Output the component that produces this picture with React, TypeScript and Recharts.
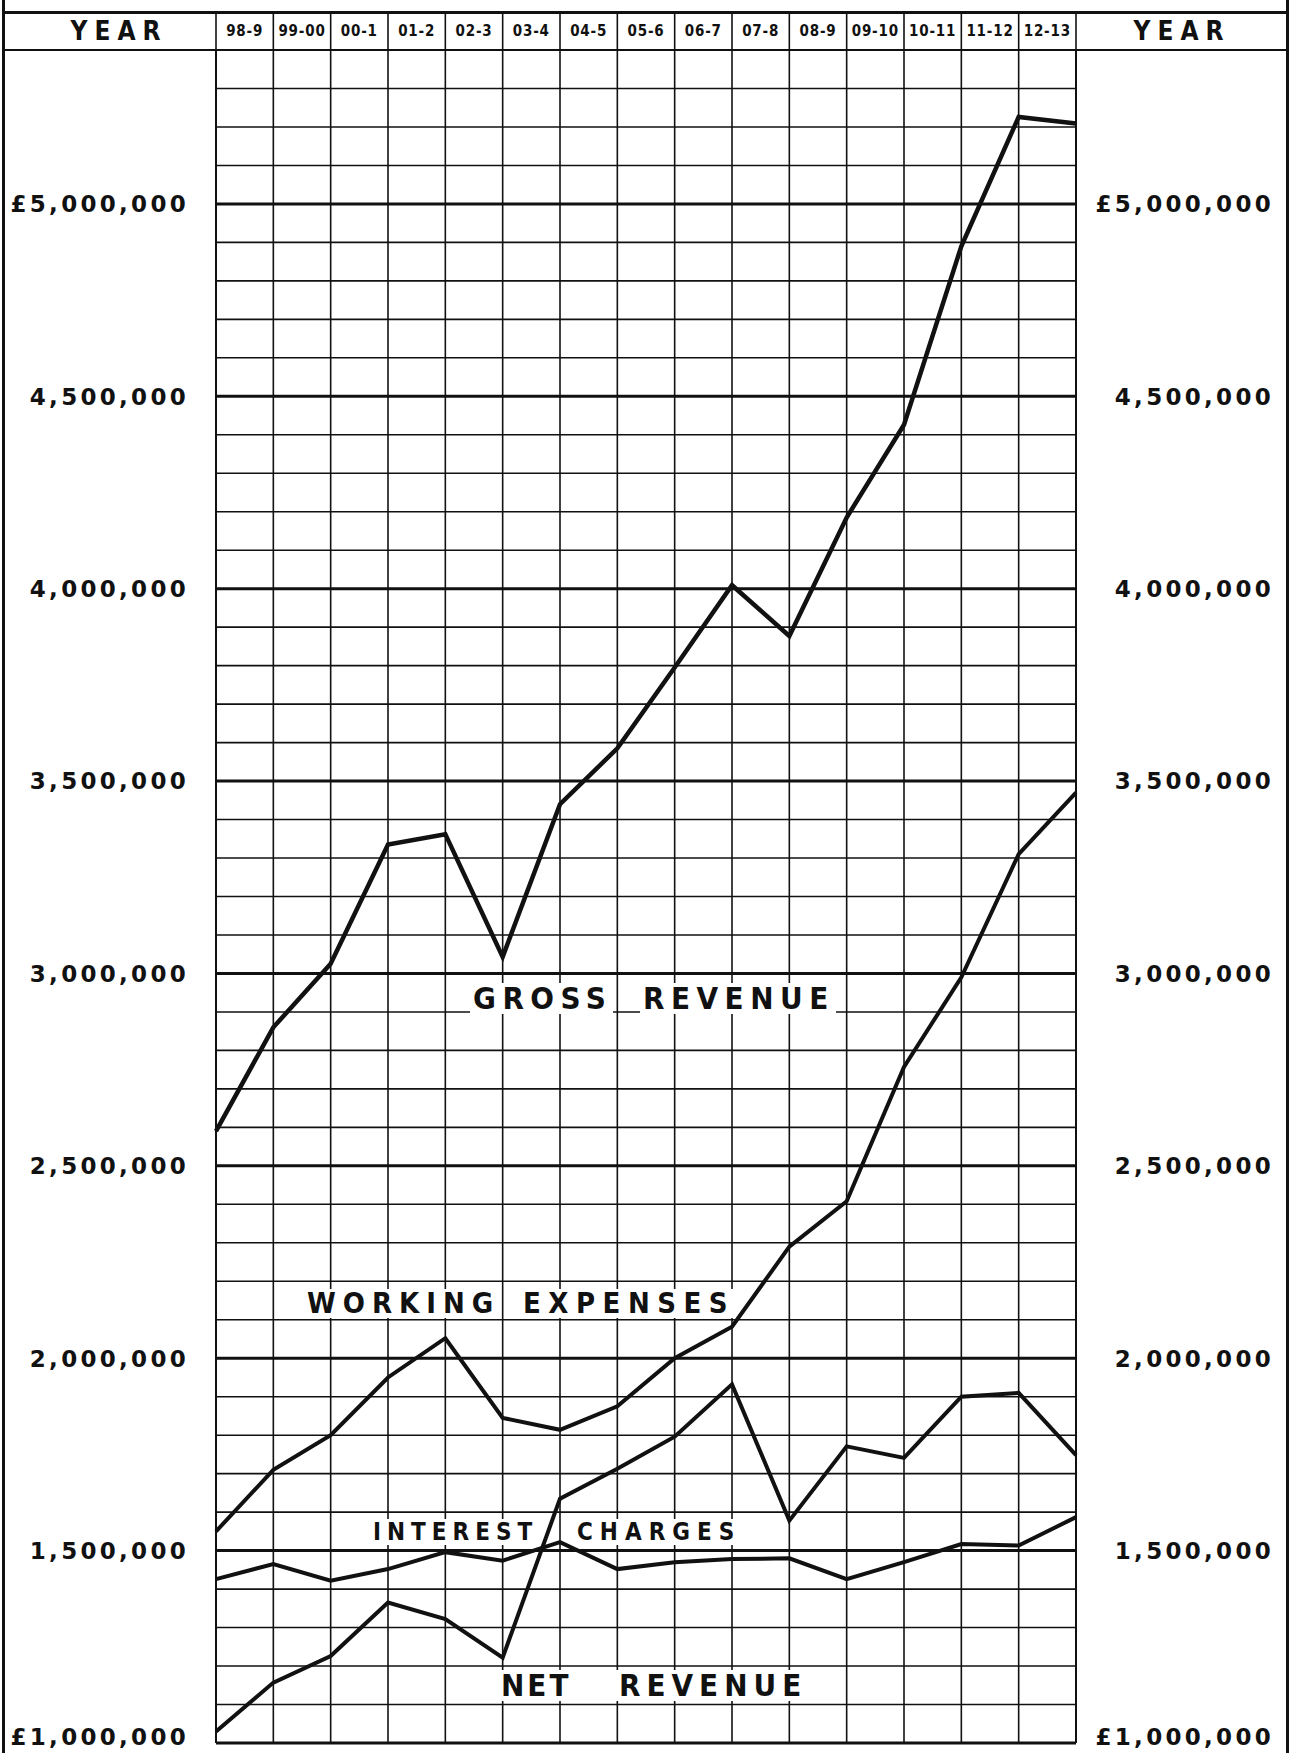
import React from "react";
import { LineChart, Line, XAxis, YAxis, ReferenceLine } from "recharts";

// financial years across the top (one cell between each pair of points)
const YEARS = ["98-9", "99-00", "00-1", "01-2", "02-3", "03-4", "04-5", "05-6", "06-7", "07-8", "08-9", "09-10", "10-11", "11-12", "12-13"];

// values in £ at each vertical ruling (16 points)
const GROSS_REVENUE = [2590000, 2860000, 3025000, 3335000, 3362000, 3043000, 3440000, 3585000, 3795000, 4009000, 3877000, 4185000, 4426000, 4890000, 5226000, 5209000];
const WORKING_EXPENSES = [1550000, 1710000, 1800000, 1950000, 2052000, 1845000, 1814000, 1875000, 2000000, 2082000, 2290000, 2408000, 2757000, 2990000, 3310000, 3470000];
const INTEREST_CHARGES = [1426000, 1465000, 1422000, 1452000, 1496000, 1474000, 1522000, 1452000, 1470000, 1478000, 1480000, 1426000, 1470000, 1517000, 1513000, 1587000];
const NET_REVENUE = [1030000, 1157000, 1226000, 1365000, 1322000, 1222000, 1635000, 1713000, 1796000, 1932000, 1578000, 1771000, 1741000, 1900000, 1910000, 1748000];

const Y_TICKS = [1000000, 1500000, 2000000, 2500000, 3000000, 3500000, 4000000, 4500000, 5000000];
const Y_DOMAIN = [1000000, 5400000];

const W = 1293;
const H = 1753;
const PLOT_L = 216;
const PLOT_R = 1076;
const PLOT_T = 50;
const PLOT_B = 1743;
const COL = (PLOT_R - PLOT_L) / YEARS.length;
const INK = "#111";
const FONT = '"DejaVu Sans Condensed", "DejaVu Sans", sans-serif';

const rows = GROSS_REVENUE.map((g, i) => ({
  i,
  gross: g,
  working: WORKING_EXPENSES[i],
  interest: INTEREST_CHARGES[i],
  net: NET_REVENUE[i],
}));

// ruling every £100,000, heavy every £500,000
const hRules: number[] = [];
for (let k = 10; k <= 54; k++) hRules.push(k * 100000);
const vRules: number[] = [];
for (let k = 0; k <= YEARS.length; k++) vRules.push(k);

const money = (v: number) => (v === 5000000 || v === 1000000 ? "£" : "") + v.toLocaleString("en-US");

// y labels; the bottom one is lifted a little so it stays on the sheet
const moneyTick = (p: any) => (
  <text x={p.x} y={p.payload.value === 1000000 ? p.y - 6 : p.y} dy="0.36em" textAnchor="end"
    style={{ fill: INK, fontFamily: '"DejaVu Sans", sans-serif', fontWeight: 700, fontSize: "23px", letterSpacing: "3.3px" }}>
    {money(p.payload.value)}
  </text>
);

const yearTick = (p: any) => {
  const idx = Math.floor(p.payload.value);
  return (
    <g>
      <line x1={p.x - COL / 2} x2={p.x - COL / 2} y1={12} y2={PLOT_T} stroke={INK} strokeWidth={1.6} />
      {idx === YEARS.length - 1 && (
        <line x1={p.x + COL / 2} x2={p.x + COL / 2} y1={12} y2={PLOT_T} stroke={INK} strokeWidth={1.6} />
      )}
      <text x={p.x} y={31} dy="0.36em" textAnchor="middle"
        style={{ fill: INK, fontFamily: FONT, fontWeight: 700, fontSize: "15px", letterSpacing: "0.8px" }}>
        {YEARS[idx]}
      </text>
    </g>
  );
};

// boxed captions laid over the ruling, kept between two rulings
const Caption = ({ left, cy, size, spacing, text }: any) => {
  const h = Math.round(size * 0.73) + 8;
  return (
    <div style={{
      position: "absolute", left, top: cy - h / 2, height: h, background: "#fff",
      fontFamily: FONT, fontWeight: "bold", fontSize: size, lineHeight: `${h}px`,
      letterSpacing: spacing, color: INK, padding: "0 1px 0 3px", whiteSpace: "nowrap",
    }}>{text}</div>
  );
};

const Rule = ({ left, top, width, height }: any) => (
  <div style={{ position: "absolute", left, top, width, height, background: INK }} />
);

const yearHead = {
  position: "absolute" as const, top: 18, width: 200, textAlign: "center" as const, fontFamily: FONT,
  fontWeight: "bold", fontSize: 26, lineHeight: "26px", letterSpacing: 7, color: INK,
};

export default function App() {
  return (
    <div style={{ position: "absolute", left: 0, top: 0, width: W, height: H, background: "#fff", overflow: "hidden" }}>
      <LineChart width={W} height={H} data={rows} margin={{ top: 0, right: 0, bottom: H - PLOT_B, left: 0 }}>
        <XAxis xAxisId="t" orientation="top" type="number" dataKey="i" domain={[0, YEARS.length]}
          height={PLOT_T} ticks={YEARS.map((_, k) => k + 0.5)} tick={yearTick} interval={0}
          axisLine={false} tickLine={false} />
        <YAxis yAxisId="l" type="number" domain={Y_DOMAIN} width={PLOT_L} ticks={Y_TICKS}
          tick={moneyTick} interval={0} axisLine={false} tickLine={false} tickSize={0} tickMargin={27} />
        <YAxis yAxisId="r" orientation="right" type="number" domain={Y_DOMAIN} width={W - PLOT_R}
          ticks={Y_TICKS} tick={(p: any) => moneyTick({ ...p, x: p.x + 170 })} interval={0}
          axisLine={false} tickLine={false} tickSize={0} tickMargin={28} />

        {hRules.map((v) => (
          <ReferenceLine key={"h" + v} xAxisId="t" yAxisId="l" y={v} stroke={INK}
            strokeWidth={v % 500000 === 0 ? 3 : 1.6} />
        ))}
        {vRules.map((v) => (
          <ReferenceLine key={"v" + v} xAxisId="t" yAxisId="l" x={v} stroke={INK}
            strokeWidth={v === 0 || v === YEARS.length ? 2 : 1.6} />
        ))}

        {/* both scales are identical; the upper two curves read against the right-hand one */}
        <Line xAxisId="t" yAxisId="r" type="linear" dataKey="gross" stroke={INK} strokeWidth={4.5} dot={false} isAnimationActive={false} />
        <Line xAxisId="t" yAxisId="r" type="linear" dataKey="working" stroke={INK} strokeWidth={4} dot={false} isAnimationActive={false} />
        <Line xAxisId="t" yAxisId="l" type="linear" dataKey="interest" stroke={INK} strokeWidth={4} dot={false} isAnimationActive={false} />
        <Line xAxisId="t" yAxisId="l" type="linear" dataKey="net" stroke={INK} strokeWidth={4} dot={false} isAnimationActive={false} />
      </LineChart>

      {/* frame and header rules */}
      <Rule left={2} top={0} width={3} height={H} />
      <Rule left={1286} top={0} width={3} height={H} />
      <Rule left={2} top={11} width={1287} height={3} />
      <Rule left={2} top={49} width={1287} height={2} />

      <div style={{ ...yearHead, left: 19 }}>YEAR</div>
      <div style={{ ...yearHead, left: 1082 }}>YEAR</div>

      <Caption left={470} cy={998} size={31} spacing={6.5} text="GROSS" />
      <Caption left={640} cy={998} size={31} spacing={6.5} text="REVENUE" />
      <Caption left={304} cy={1303} size={29} spacing={7} text="WORKING" />
      <Caption left={520} cy={1303} size={29} spacing={7.5} text="EXPENSES" />
      <Caption left={370} cy={1532} size={24} spacing={6} text="INTEREST" />
      <Caption left={574} cy={1532} size={24} spacing={7} text="CHARGES" />
      <Caption left={498} cy={1685} size={31} spacing={3} text="NET" />
      <Caption left={616} cy={1685} size={31} spacing={6} text="REVENUE" />
    </div>
  );
}
